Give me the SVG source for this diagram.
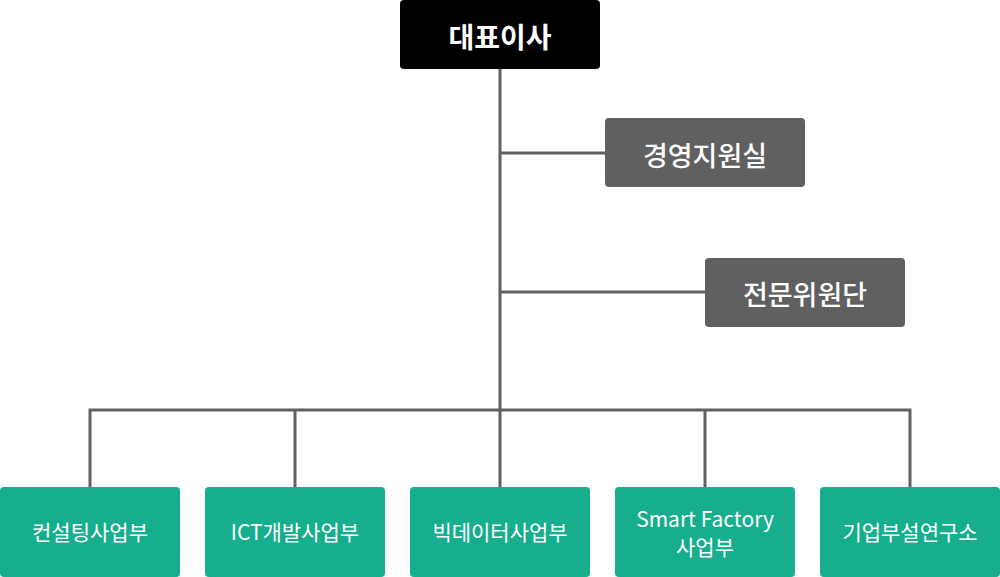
<svg xmlns="http://www.w3.org/2000/svg" width="1000" height="577" viewBox="0 0 1000 577">
<style>
.t{font-family:"Noto Sans CJK KR","Noto Sans",sans-serif;fill:#fff;text-anchor:middle;dominant-baseline:central}
.top{font-size:28px;font-weight:700}
.mid{font-size:27px;font-weight:500}
.bot{font-size:21px;font-weight:400}
.gray{fill:#606060}
.green{fill:#16ae8c}
.ln{stroke:#606060;stroke-width:3;fill:none}
</style>
<rect width="1000" height="577" fill="#fff"/>
<g id="connectors">
<path class="ln" d="M500 69V410M500 153H605M500 292H705M90 487V410H910V487M295 410V487M500 410V487M705 410V487"/>
</g>
<g id="ceo"><rect x="400" y="0" width="200" height="69" rx="4" fill="#000"/><text class="t top" x="500" y="36">대표이사</text></g>
<g id="mgmt"><rect class="gray" x="605" y="118" width="200" height="69" rx="4"/><text class="t mid" x="705" y="154">경영지원실</text></g>
<g id="experts"><rect class="gray" x="705" y="258" width="200" height="69" rx="4"/><text class="t mid" x="805" y="293">전문위원단</text></g>
<g id="consulting"><rect class="green" x="0" y="487" width="180" height="90" rx="4"/><text class="t bot" x="90" y="531">컨설팅사업부</text></g>
<g id="ict"><rect class="green" x="205" y="487" width="180" height="90" rx="4"/><text class="t bot" x="295" y="531">ICT개발사업부</text></g>
<g id="bigdata"><rect class="green" x="410" y="487" width="180" height="90" rx="4"/><text class="t bot" x="500" y="531">빅데이터사업부</text></g>
<g id="smartfactory"><rect class="green" x="615" y="487" width="180" height="90" rx="4"/><text class="t bot" x="705" y="518">Smart Factory</text><text class="t bot" x="705" y="546">사업부</text></g>
<g id="lab"><rect class="green" x="820" y="487" width="180" height="90" rx="4"/><text class="t bot" x="910" y="531">기업부설연구소</text></g>
</svg>
